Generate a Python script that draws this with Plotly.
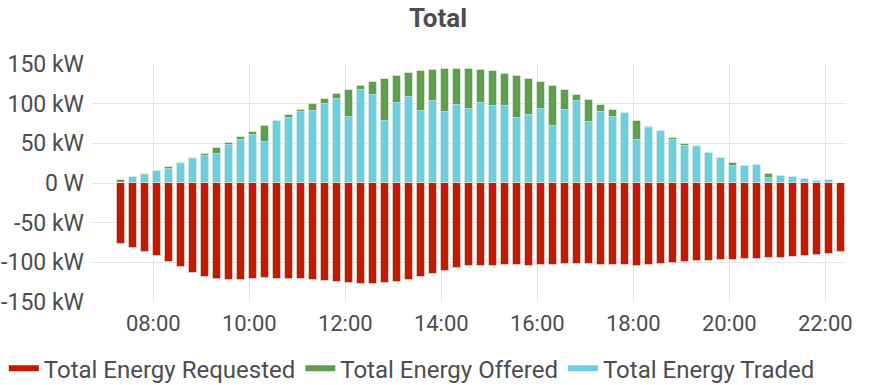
import pandas as pd
import plotly.graph_objects as go

# ---- data ----
start_time = "2024-01-01 07:15"
times = pd.date_range(start_time, periods=61, freq="15min")

requested = [-76.9, -81.9, -86.6, -92.0, -99.2, -105.9, -113.0, -118.1, -121.0, -121.8,
             -121.8, -121.4, -120.2, -120.6, -120.6, -121.0, -121.8, -123.1, -124.4, -125.6,
             -126.9, -126.9, -126.5, -125.2, -121.8, -118.1, -114.3, -110.5, -107.1, -105.0,
             -104.6, -104.2, -103.8, -103.8, -104.2, -103.8, -103.4, -102.5, -102.5, -102.5,
             -102.9, -103.4, -103.8, -104.6, -103.4, -102.1, -100.8, -99.6, -98.3, -97.9,
             -97.1, -96.6, -96.2, -95.4, -94.5, -94.1, -92.9, -91.6, -90.3, -89.1, -87.4]

offered = [4.3, 7.8, 11.3, 15.5, 20.2, 25.6, 31.1, 37.0, 43.7, 50.4,
           57.6, 64.7, 71.4, 78.6, 85.3, 92.4, 99.2, 105.9, 111.8, 117.6,
           122.7, 127.3, 131.5, 135.3, 138.2, 140.8, 142.0, 143.3, 143.7, 143.3,
           142.0, 140.8, 137.8, 134.9, 131.1, 126.9, 121.8, 116.8, 111.3, 105.0,
           98.3, 91.6, 88.7, 77.7, 71.0, 65.5, 56.3, 49.6, 46.2, 38.2,
           31.1, 24.8, 21.0, 23.1, 10.9, 9.2, 7.1, 5.5, 2.9, 3.4, 0.0]

traded = [0.0, 7.6, 10.1, 15.1, 18.1, 24.4, 30.7, 34.0, 36.1, 47.9,
          54.2, 60.1, 51.7, 77.7, 81.9, 89.5, 91.2, 99.6, 106.3, 83.6,
          116.8, 111.3, 77.7, 100.8, 108.4, 90.8, 103.4, 89.5, 98.7, 92.9,
          100.4, 97.1, 97.1, 81.9, 86.1, 93.3, 71.4, 92.0, 102.9, 76.9,
          89.5, 82.8, 88.2, 54.6, 69.3, 65.0, 53.8, 47.1, 46.0, 38.0,
          31.0, 21.4, 21.0, 23.1, 5.9, 9.2, 7.1, 5.5, 2.9, 3.4, 0.0]

series_names = ["Total Energy Requested", "Total Energy Offered", "Total Energy Traded"]
series_colors = ["#bf1b00", "#5f9e4f", "#6dcee0"]

y_tickvals = [150, 100, 50, 0, -50, -100, -150]
y_ticktext = ["150 kW", "100 kW", "50 kW", "0 W", "-50 kW", "-100 kW", "-150 kW"]

FONT = "Roboto"
TEXT = "#4d4d4f"

fig = go.Figure()
bar_w = 10 * 60 * 1000  # 10 minutes
for name, vals, col in zip(series_names, [requested, offered, traded], series_colors):
    fig.add_trace(go.Bar(
        x=times, y=vals, name=name, showlegend=False,
        marker=dict(color=col, line=dict(color="rgba(255,255,255,0.45)", width=1)),
        width=bar_w, offset=0,
    ))
# legend entries as line swatches
for name, col in zip(series_names, series_colors):
    fig.add_trace(go.Scatter(
        x=[None], y=[None], mode="lines", name=name,
        line=dict(color=col, width=6),
    ))

fig.update_layout(
    width=876, height=385,
    barmode="overlay", bargap=0,
    paper_bgcolor="white", plot_bgcolor="white",
    margin=dict(l=92, r=30, t=64, b=83, autoexpand=False),
    font=dict(family=FONT, color=TEXT, size=22),
    title=dict(text="<b>Total</b>", x=0.5, xref="container", xanchor="center",
               y=1 - 18 / 385, yref="container", yanchor="middle",
               font=dict(family=FONT, size=26, color=TEXT)),
    legend=dict(orientation="h", x=-0.117, xanchor="left", y=-0.28, yanchor="middle",
                font=dict(family=FONT, size=24, color=TEXT),
                bgcolor="rgba(0,0,0,0)", itemwidth=30, tracegroupgap=0),
    showlegend=True,
)
fig.update_xaxes(
    type="date",
    range=["2024-01-01 06:43:24", "2024-01-01 22:25:54"],
    tick0="2024-01-01 08:00", dtick=2 * 3600 * 1000, tickformat="%H:%M",
    showgrid=True, gridcolor="#e6e6e6", gridwidth=1,
    zeroline=False, showline=False, ticks="",
    tickfont=dict(family=FONT, size=22, color=TEXT),
    ticklabelstandoff=6, automargin=False,
)
fig.update_yaxes(
    range=[-150, 150], tickvals=y_tickvals, ticktext=y_ticktext,
    showgrid=True, gridcolor="#e6e6e6", gridwidth=1,
    zeroline=False, showline=False, ticks="",
    tickfont=dict(family=FONT, size=23, color=TEXT),
    ticklabelstandoff=7, automargin=False,
)

fig.write_html("out.html", config={"displayModeBar": False},
               post_script="document.body.style.margin='0';document.body.style.overflow='hidden';")
